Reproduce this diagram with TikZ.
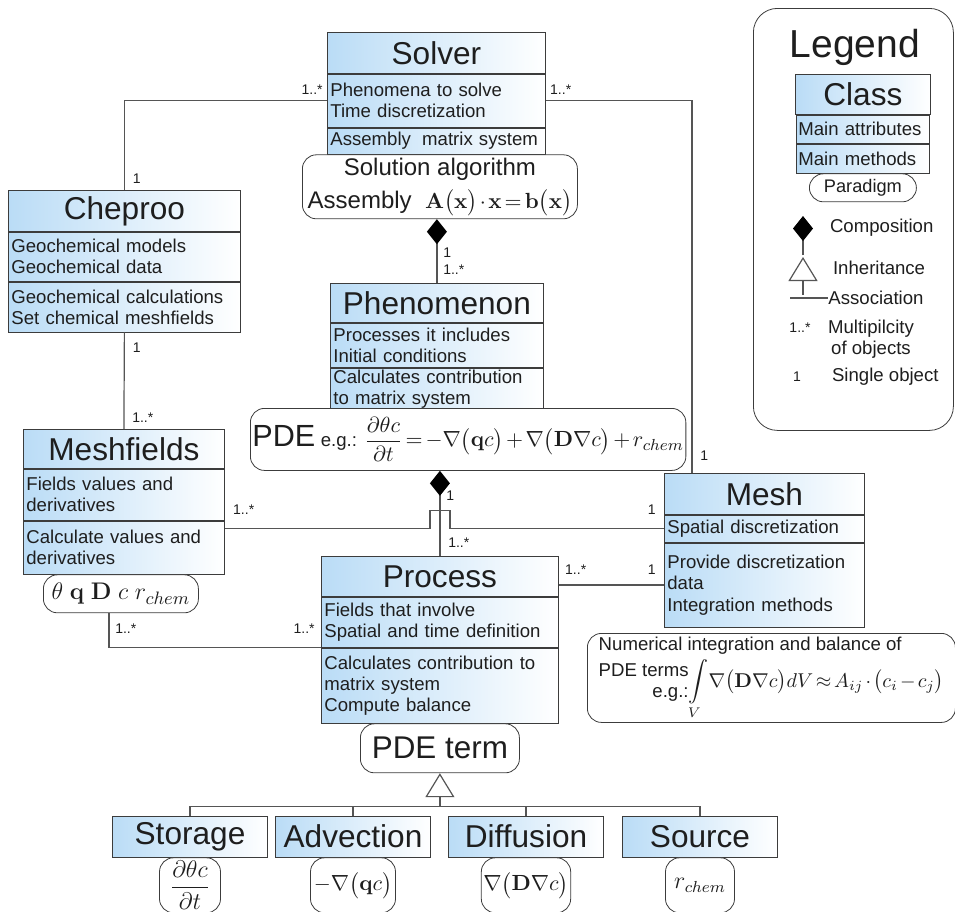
\documentclass[tikz,border=0pt]{standalone}
\usepackage{amsmath}
\usepackage[no-math]{fontspec}
\setmainfont{Liberation Sans}
\usetikzlibrary{positioning,arrows.meta}

\definecolor{umlblue}{RGB}{186,220,246}
\definecolor{boxgray}{RGB}{60,60,60}
\definecolor{linegray}{RGB}{85,85,85}
\definecolor{textdark}{RGB}{30,30,30}

\newcommand{\umltitle}{\fontsize{15.8}{18}\selectfont}
\newcommand{\umlbody}{\fontsize{9.3}{10.6}\selectfont}
\newcommand{\umlalg}{\fontsize{12}{15.5}\selectfont}
\newcommand{\umlmath}{\fontsize{11}{13}\selectfont}
\newcommand{\umlmult}{\fontsize{7}{8}\selectfont}
\newcommand{\tightmath}{\medmuskip=2mu\thickmuskip=2.5mu}

\tikzstyle{classname} = [draw=boxgray, left color=umlblue, right color=white, text=textdark,
    font=\umltitle, align=center, inner xsep=1.5pt, inner ysep=0pt]
\tikzstyle{classpart} = [draw=boxgray, left color=umlblue, right color=white, text=textdark,
    font=\umlbody, align=left, inner xsep=1.5pt, inner ysep=1pt]
\tikzstyle{paradigm} = [draw=boxgray, fill=white, text=textdark, rounded corners=7pt, align=center, inner sep=1pt]
\tikzstyle{mult} = [font=\umlmult, text=textdark, inner sep=1pt]
\tikzstyle{assoc} = [draw=linegray, line width=0.6pt]
\tikzstyle{comp} = [assoc, -{Diamond[length=12.5pt, width=10pt, color=black]}]
\tikzstyle{inherit} = [assoc, {Triangle[open, length=12pt, width=14.5pt, fill=white]}-]

\begin{document}
\begin{tikzpicture}[x=0.5pt, y=-0.5pt, node distance=0pt]
  \useasboundingbox (0,0) rectangle (955,912);
   % Place nodes
    \node [classname, text width=106pt, minimum height=20.5pt, anchor=north west] (solver) at (327,32) {Solver};
    \node [classpart, text width=106pt, minimum height=26.5pt, below=of solver] (solverattr) {Phenomena to solve\\Time discretization};
    \node [classpart, text width=106pt, minimum height=13pt, below=of solverattr] (solvermeth) {Assembly\hspace{0.6em}matrix system};
    \node [paradigm, font=\umlalg, minimum width=137.5pt, minimum height=32pt, inner ysep=0pt, below=of solvermeth, xshift=1.75pt] (solveralg)
      {Solution algorithm\\[1pt]Assembly~ {\fontsize{10.5}{12}\selectfont$\tightmath\mathbf{A}\bigl(\mathbf{x}\bigr)\cdot\mathbf{x}=\mathbf{b}\bigl(\mathbf{x}\bigr)$}};

    \node [classname, text width=113pt, minimum height=20.5pt, anchor=north west] (chepproo) at (8,190) {Cheproo};
    \node [classpart, text width=113pt, minimum height=24.5pt, below=of chepproo] (chepattr) {Geochemical models\\Geochemical data};
    \node [classpart, text width=113pt, minimum height=25pt, below=of chepattr] (chepmeth) {Geochemical calculations\\Set chemical meshfields};

    \node [classname, text width=97.5pt, minimum height=19.5pt, anchor=north west] (meshfields) at (23,429) {Meshfields};
    \node [classpart, text width=97.5pt, minimum height=25.5pt, below=of meshfields] (meshfattr) {Fields values and\\derivatives};
    \node [classpart, text width=97.5pt, minimum height=26.5pt, below=of meshfattr] (meshfmeth) {Calculate values and\\derivatives};
    \node [paradigm, minimum width=77.5pt, minimum height=19pt, below=of meshfmeth, xshift=-1.5pt] (meshfalg)
      {\fontsize{13}{15}\selectfont$\theta\;\mathbf{q}\;\mathbf{D}\;c\;r_{chem}$};

    \node [classname, text width=103.5pt, minimum height=19.5pt, anchor=north west] (phenomenon) at (330,283) {Phenomenon};
    \node [classpart, text width=103.5pt, minimum height=22pt, below=of phenomenon] (phenattr) {Processes it includes\\Initial conditions};
    \node [classpart, text width=103.5pt, minimum height=20.5pt, below=of phenattr] (phenmeth) {Calculates contribution\\to matrix system};
    \node [paradigm, minimum width=208.5pt, minimum height=31pt, anchor=north west] (pdealg) at (250,408)
      {{\fontsize{15.3}{18}\selectfont PDE} {\umlbody e.g.:} {\umlmath$\tightmath\dfrac{\partial\theta c}{\partial t}=-\nabla\bigl(\mathbf{q}c\bigr)+\nabla\bigl(\mathbf{D}\nabla c\bigr)+r_{chem}$}};

    \node [classname, text width=97pt, minimum height=20.5pt, anchor=north west] (mesh) at (664,473) {Mesh};
    \node [classpart, text width=97pt, minimum height=13.5pt, below=of mesh] (meshattr) {Spatial discretization};
    \node [classpart, text width=97pt, minimum height=42pt, below=of meshattr] (meshmeth) {Provide discretization\\data\\Integration methods};
    \node [paradigm, align=left, font=\umlbody, minimum width=184pt, minimum height=44.5pt, inner xsep=2.5pt, inner ysep=0pt, anchor=north west] (meshalg) at (587,633)
      {Numerical integration and balance of\\[2pt]\begin{tabular}{@{}r@{}}PDE terms\\e.g.:\end{tabular}{\fontsize{10}{12}\selectfont$\tightmath\displaystyle\int\limits_{V}\!\nabla\bigl(\mathbf{D}\nabla c\bigr)dV\approx A_{ij}\cdot\bigl(c_i-c_j\bigr)$}};

    \node [classname, text width=115.5pt, minimum height=20pt, anchor=north west] (process) at (321,556) {Process};
    \node [classpart, text width=115.5pt, minimum height=25pt, below=of process] (procattr) {Fields that involve\\Spatial and time definition};
    \node [classpart, text width=115.5pt, minimum height=37.5pt, below=of procattr] (procmeth) {Calculates contribution to\\matrix system\\Compute balance};
    \node [paradigm, font=\fontsize{15.7}{18}\selectfont, minimum width=79.5pt, minimum height=24.5pt, below=of procmeth] (pdeterm) {PDE term};

    \node [classname, text width=74.5pt, minimum height=20.5pt] (storage) at (190,836.5) {Storage};
    \node [paradigm, font=\umlalg, minimum width=30.5pt, minimum height=27.5pt, below=of storage] (storterm) {$\dfrac{\partial\theta c}{\partial t}$};
    \node [classname, text width=74.5pt, minimum height=20.5pt] (advection) at (353,836.5) {Advection};
    \node [paradigm, font=\umlmath, minimum width=42.5pt, minimum height=27.5pt, below=of advection] (advterm) {$-\nabla\bigl(\mathbf{q}c\bigr)$};
    \node [classname, text width=74.5pt, minimum height=20.5pt] (diffusion) at (526,836.5) {Diffusion};
    \node [paradigm, font=\umlmath, minimum width=43.5pt, minimum height=27.5pt, below=of diffusion] (difterm) {$\nabla\bigl(\mathbf{D}\nabla c\bigr)$};
    \node [classname, text width=74.5pt, minimum height=20.5pt] (source) at (700,836.5) {Source};
    \node [paradigm, font=\umlalg, minimum width=34.5pt, minimum height=27.5pt, below=of source] (srcterm) {$r_{chem}$};

   % Legend
    \node [paradigm, rounded corners=12pt, minimum width=100pt, minimum height=211pt, anchor=north west] (legendbox) at (753,8) {};
    \node [text=textdark, font=\fontsize{19.5}{22}\selectfont] (legendtitle) at (855,47) {Legend};
    \node [classname, text width=64.5pt, minimum height=20pt, anchor=north west] (lclass) at (795,74) {Class};
    \node [classpart, text width=64.5pt, minimum height=14pt, inner xsep=1pt, below=of lclass] (lattr) {Main attributes};
    \node [classpart, text width=64.5pt, minimum height=14.5pt, inner xsep=1pt, below=of lattr] (lmeth) {Main methods};
    \node [paradigm, font=\fontsize{9.1}{10.5}\selectfont, minimum width=53.5pt, minimum height=14pt, below=of lmeth] (lalg) {Paradigm};
    \coordinate (lcomptop) at (803,216);
    \coordinate (lcompend) at (803,255);
    \coordinate (linhtop) at (803,257);
    \coordinate (linhend) at (803,295);
    \coordinate (lassocl) at (790,298);
    \coordinate (lassocr) at (828,298);
    \node [text=textdark, font=\umlbody, anchor=west] (lcomp) at (823,228) {Composition};
    \node [text=textdark, font=\umlbody, anchor=west] (linh) at (826,268) {Inheritance};
    \node [text=textdark, font=\umlbody, anchor=west, inner xsep=0pt] (lassoc) at (lassocr) {Association};
    \node [mult] (lmany) at (800,328) {1..*};
    \node [text=textdark, font=\umlbody, align=center] (lmanytext) at (871,339) {Multipilcity\\of objects};
    \node [mult] (lone) at (797,377) {1};
    \node [text=textdark, font=\umlbody, anchor=west] (lonetext) at (825,377) {Single object};

   % Draw edges
    \path [assoc] (solverattr.west) -| (chepproo.north);
    \path [assoc] (solverattr.east) -| ([xshift=14pt]mesh.north west) coordinate (meshtop);
    \path [assoc] (chepmeth.south) -- (meshfields.north);
    \path [comp] (phenomenon.north) -- (phenomenon.north |- solveralg.south);
    \path [comp] (process.north) -- (process.north |- pdealg.south);
    \path [assoc] (meshfmeth.east |- meshattr.west) -- ([xshift=-5pt]process.north |- meshattr.west)
      -- ++(0,-18) -- ++(20,0) -- ++(0,18) -- (meshattr.west);
    \path [assoc] (meshmeth.west -| process.east) -- (meshmeth.west);
    \path [assoc] (procattr.south west) -| ([xshift=-6pt]meshfalg.south) coordinate (meshfbottom);
    \path [inherit] (pdeterm.south) -- ++(0,33) coordinate (bus);
    \path [assoc] (storage.north) |- (bus) -| (source.north);
    \path [assoc] (advection.north) |- (bus);
    \path [assoc] (diffusion.north) |- (bus);
    \path [comp] (lcompend) -- (lcomptop);
    \path [inherit] (linhtop) -- (linhend);
    \path [assoc] (lassocl) -- (lassocr);

   % Multiplicities
    \node [mult, anchor=south east] at ([xshift=-1pt,yshift=2pt]solverattr.west) {1..*};
    \node [mult, anchor=south west] at ([xshift=1pt,yshift=2pt]solverattr.east) {1..*};
    \node [mult, anchor=south west] at ([xshift=3pt,yshift=2pt]chepproo.north) {1};
    \node [mult, anchor=north west] at ([xshift=3pt,yshift=-4pt]chepmeth.south) {1};
    \node [mult, anchor=south west] at ([xshift=3pt,yshift=2pt]meshfields.north) {1..*};
    \node [mult, anchor=south west] at ([xshift=3pt,yshift=6pt]meshfmeth.east |- meshattr.west) {1..*};
    \node [mult, anchor=south east] at ([xshift=-3pt,yshift=6pt]meshattr.west) {1};
    \node [mult, anchor=south west] at ([xshift=3pt,yshift=5pt]meshtop) {1};
    \node [mult, anchor=north west] at ([xshift=2pt,yshift=-13pt]phenomenon.north |- solveralg.south) {1};
    \node [mult, anchor=south west] at ([xshift=2pt,yshift=3pt]phenomenon.north) {1..*};
    \node [mult, anchor=north west] at ([xshift=2pt,yshift=-9pt]process.north |- pdealg.south) {1};
    \node [mult, anchor=south west] at ([xshift=3pt,yshift=3pt]process.north) {1..*};
    \node [mult, anchor=south west] at ([xshift=2pt,yshift=4pt]meshmeth.west -| process.east) {1..*};
    \node [mult, anchor=south east] at ([xshift=-3pt,yshift=4pt]meshmeth.west) {1};
    \node [mult, anchor=south east] at ([xshift=-2pt,yshift=6pt]procattr.south west) {1..*};
    \node [mult, anchor=north west] at ([xshift=2pt,yshift=-4pt]meshfalg.south -| meshfbottom) {1..*};
  \end{tikzpicture}
\end{document}
